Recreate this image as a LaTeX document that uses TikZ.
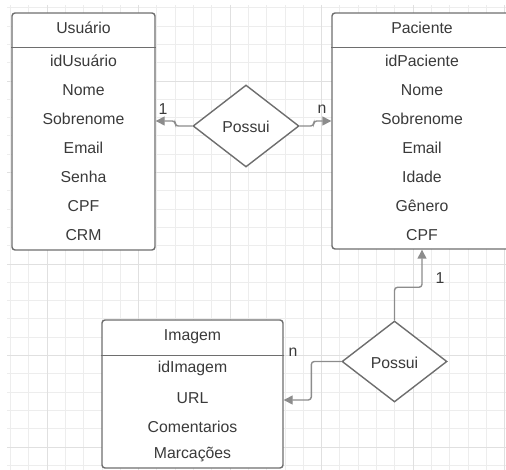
\documentclass[tikz,border=0pt]{standalone}
\usepackage{fontspec}
\setmainfont{Liberation Sans}
\usetikzlibrary{shapes.geometric,arrows.meta}

\definecolor{boxline}{HTML}{6E6E6E}
\definecolor{linkline}{HTML}{8C8C8C}
\definecolor{inktext}{HTML}{3A3A3A}

\tikzset{
  entity/.style={draw=boxline,line width=1.4pt,fill=white,rounded corners=3pt,inner sep=0pt},
  relation/.style={diamond,draw=boxline,line width=1.4pt,fill=white,inner sep=0pt},
  attr/.style={text=inktext,inner sep=1pt},
  link/.style={draw=linkline,line width=1.4pt,rounded corners=3pt,-{Triangle[length=9pt,width=9pt]}},
  card/.style={text=inktext,inner sep=0pt},
}

\begin{document}
\begin{tikzpicture}[x=1pt,y=-1pt,font=\fontsize{15.8}{18}\selectfont]
\useasboundingbox (0,0) rectangle (506,470);
\clip (0,0) rectangle (506,470);
\foreach \k in {0,...,27}
  \draw[gray!14,line width=0.8pt] (10.4+18.3*\k,5) -- (10.4+18.3*\k,470);
\foreach \k in {0,...,25}
  \draw[gray!14,line width=0.8pt] (7,7.8+18.3*\k) -- (506,7.8+18.3*\k);
\foreach \k in {2,7,12,17,22,27}
  \draw[gray!24,line width=0.8pt] (10.4+18.3*\k,5) -- (10.4+18.3*\k,470);
\foreach \k in {4,9,14,19,24}
  \draw[gray!24,line width=0.8pt] (7,7.8+18.3*\k) -- (506,7.8+18.3*\k);
% Usuario
\node[entity,minimum width=143pt,minimum height=237pt] (usuario) at (83.5,131.5) {};
\draw[boxline,line width=1.4pt] ([yshift=-35pt]usuario.north west) -- ([yshift=-35pt]usuario.north east);
\node[attr] (usuario-title) at (83.5,28) {Usuário};
\node[attr] (usuario-id) at (83.5,61) {idUsuário};
\node[attr] (usuario-nome) at (83.5,90) {Nome};
\node[attr] (usuario-sobrenome) at (83.5,119) {Sobrenome};
\node[attr] (usuario-email) at (83.5,148) {Email};
\node[attr] (usuario-senha) at (83.5,177) {Senha};
\node[attr] (usuario-cpf) at (83.5,206) {CPF};
\node[attr] (usuario-crm) at (83.5,235) {CRM};
% Paciente
\node[entity,minimum width=180pt,minimum height=236pt] (paciente) at (422,131) {};
\draw[boxline,line width=1.4pt] ([yshift=-35pt]paciente.north west) -- ([yshift=-35pt]paciente.north east);
\node[attr] (paciente-title) at (422,28) {Paciente};
\node[attr] (paciente-id) at (422,61) {idPaciente};
\node[attr] (paciente-nome) at (422,90) {Nome};
\node[attr] (paciente-sobrenome) at (422,119) {Sobrenome};
\node[attr] (paciente-email) at (422,148) {Email};
\node[attr] (paciente-idade) at (422,177) {Idade};
\node[attr] (paciente-genero) at (422,206) {Gênero};
\node[attr] (paciente-cpf) at (422,235) {CPF};
% Imagem
\node[entity,minimum width=181pt,minimum height=148pt] (imagem) at (192.5,394) {};
\draw[boxline,line width=1.4pt] ([yshift=-36pt]imagem.north west) -- ([yshift=-36pt]imagem.north east);
\node[attr] (imagem-title) at (192.5,337) {Imagem};
\node[attr] (imagem-id) at (192.5,368) {idImagem};
\node[attr] (imagem-url) at (192.5,398) {URL};
\node[attr] (imagem-comentarios) at (192.5,427) {Comentarios};
\node[attr] (imagem-marcacoes) at (192.5,455) {Marcações};
% relacionamentos
\node[relation,minimum width=106pt,minimum height=82pt] (possui-usuario) at (246,126) {};
\node[attr] at (246,127) {Possui};
\node[relation,minimum width=105pt,minimum height=81pt] (possui-imagem) at (394.5,361.5) {};
\node[attr] at (394.5,363) {Possui};
\draw[link] (possui-usuario.west) -- ++(-17,0) |- ([yshift=-2pt]usuario.east |- usuario-sobrenome);
\draw[link] (possui-usuario.east) -- ++(14,0) |- ([yshift=-2pt]paciente.west |- paciente-sobrenome);
\draw[link] (possui-imagem.north) -- ++(0,-33) -| (paciente.south);
\draw[link] (possui-imagem.west) -- ++(-30,0) |- ([yshift=-2pt]imagem.east |- imagem-url);
\node[card] (card-usuario) at (163,109) {1};
\node[card] (card-paciente-a) at (322,109) {n};
\node[card] (card-paciente-b) at (440,278) {1};
\node[card] (card-imagem) at (293,352) {n};
\end{tikzpicture}
\end{document}
